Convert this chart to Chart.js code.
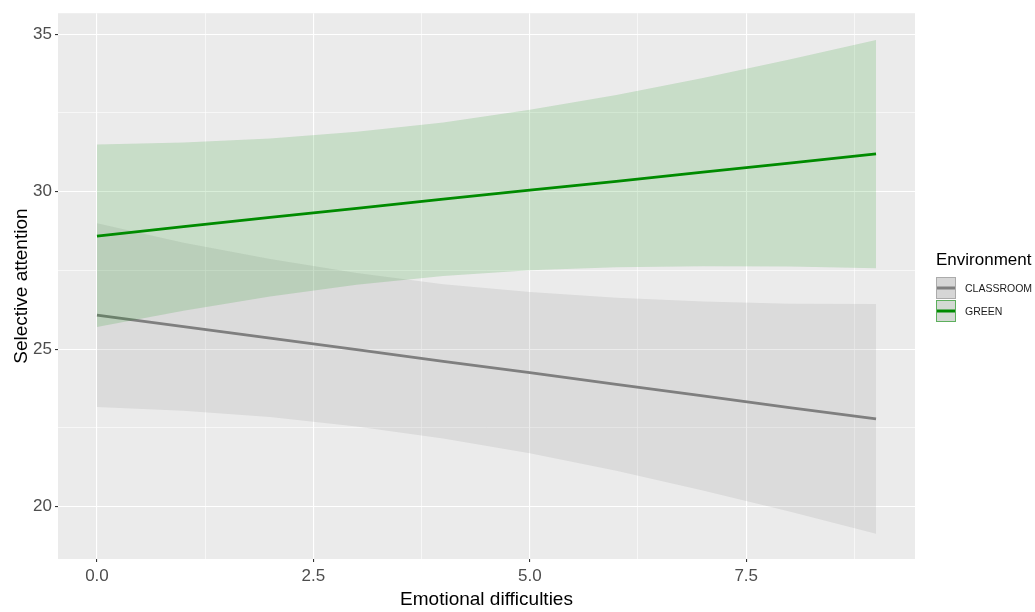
<!DOCTYPE html>
<html>
<head>
<meta charset="utf-8">
<script src="https://cdn.jsdelivr.net/npm/chart.js@4.4.0/dist/chart.umd.min.js"></script>
<style>
  html, body { margin: 0; padding: 0; background: #ffffff; }
  #wrap { width: 1035px; height: 612px; }
</style>
</head>
<body>
<div id="wrap"><canvas id="chart" width="1035" height="612"></canvas></div>
<script>
// values
const emotional = [0, 1, 2, 3, 4, 5, 6, 7, 8, 9];

const classroomFit   = [26.08, 25.71, 25.35, 24.98, 24.61, 24.25, 23.88, 23.51, 23.14, 22.78];
const classroomUpper = [29.00, 28.38, 27.86, 27.42, 27.06, 26.81, 26.63, 26.51, 26.44, 26.43];
const classroomLower = [23.16, 23.04, 22.84, 22.54, 22.16, 21.69, 21.13, 20.51, 19.84, 19.13];

const greenFit   = [28.59, 28.89, 29.18, 29.47, 29.76, 30.05, 30.33, 30.62, 30.91, 31.20];
const greenUpper = [31.50, 31.56, 31.69, 31.90, 32.20, 32.60, 33.07, 33.61, 34.20, 34.82];
const greenLower = [25.70, 26.22, 26.67, 27.04, 27.32, 27.50, 27.60, 27.63, 27.62, 27.57];

const xMajor = [0, 2.5, 5, 7.5];
const xMinor = [1.25, 3.75, 6.25, 8.75];
const yMajor = [20, 25, 30, 35];
const yMinor = [22.5, 27.5, 32.5];

const legendTitle = 'Environment';
const groups = ['CLASSROOM', 'GREEN'];

const FONT = "'Liberation Sans', Arial, sans-serif";
const GREY = '#7F7F7F';
const GREEN = '#008B00';

function pts(ys) {
    return emotional.map((x, i) => ({ x: x, y: ys[i] }));
}

function isMajor(list, v) {
    return list.some(m => Math.abs(m - v) < 1e-6);
}

const panelBg = {
    id: 'panelBg',
    beforeDraw(chart) {
        const { ctx, chartArea: a } = chart;
        ctx.save();
        ctx.fillStyle = '#EBEBEB';
        ctx.fillRect(a.left, a.top, a.right - a.left, a.bottom - a.top);
        ctx.restore();
    }
};

const ggLegend = {
    id: 'ggLegend',
    afterDraw(chart) {
        const ctx = chart.ctx;
        ctx.save();
        ctx.textBaseline = 'middle';
        ctx.textAlign = 'left';
        ctx.fillStyle = '#000000';
        ctx.font = '17px ' + FONT;
        ctx.fillText(legendTitle, 936, 260);

        const keys = [
            { fill: '#D6D6D6', border: '#ABABAB', line: GREY },
            { fill: '#D3D9D3', border: '#5DAF5D', line: GREEN }
        ];
        groups.forEach((g, i) => {
            const y = 277 + i * 23;
            const k = keys[i];
            ctx.fillStyle = k.fill;
            ctx.fillRect(936, y, 20, 22);
            ctx.strokeStyle = k.border;
            ctx.lineWidth = 1;
            ctx.strokeRect(936.5, y + 0.5, 19, 21);
            ctx.strokeStyle = k.line;
            ctx.lineWidth = 3;
            ctx.beginPath();
            ctx.moveTo(937, y + 11);
            ctx.lineTo(955, y + 11);
            ctx.stroke();
            ctx.fillStyle = '#1A1A1A';
            ctx.font = '10.5px ' + FONT;
            ctx.fillText(g, 965, y + 12);
        });
        ctx.restore();
    }
};

const ctx = document.getElementById('chart').getContext('2d');
new Chart(ctx, {
    type: 'line',
    data: {
        datasets: [
            {
                label: 'CLASSROOM upper',
                data: pts(classroomUpper),
                borderWidth: 0,
                pointRadius: 0,
                fill: '+1',
                backgroundColor: 'rgba(127, 127, 127, 0.15)',
                order: 6
            },
            {
                label: 'CLASSROOM lower',
                data: pts(classroomLower),
                borderWidth: 0,
                pointRadius: 0,
                fill: false,
                order: 6
            },
            {
                label: 'CLASSROOM',
                data: pts(classroomFit),
                borderColor: GREY,
                borderWidth: 2.8,
                pointRadius: 0,
                fill: false,
                order: 5
            },
            {
                label: 'GREEN upper',
                data: pts(greenUpper),
                borderWidth: 0,
                pointRadius: 0,
                fill: '+1',
                backgroundColor: 'rgba(0, 139, 0, 0.15)',
                order: 4
            },
            {
                label: 'GREEN lower',
                data: pts(greenLower),
                borderWidth: 0,
                pointRadius: 0,
                fill: false,
                order: 4
            },
            {
                label: 'GREEN',
                data: pts(greenFit),
                borderColor: GREEN,
                borderWidth: 2.8,
                pointRadius: 0,
                fill: false,
                order: 3
            }
        ]
    },
    options: {
        responsive: false,
        animation: false,
        events: [],
        layout: { padding: { top: 11, right: 120, left: 0, bottom: 0 } },
        plugins: {
            legend: { display: false },
            tooltip: { enabled: false }
        },
        scales: {
            x: {
                type: 'linear',
                min: -0.45,
                max: 9.45,
                afterBuildTicks: (scale) => {
                    scale.ticks = xMajor.concat(xMinor).sort((a, b) => a - b).map(v => ({ value: v }));
                },
                afterFit: (scale) => { scale.height = 53; },
                border: { display: false },
                grid: {
                    color: '#FFFFFF',
                    lineWidth: (c) => isMajor(xMajor, c.tick.value) ? 1.1 : 0.6,
                    tickColor: (c) => isMajor(xMajor, c.tick.value) ? '#333333' : 'rgba(0,0,0,0)',
                    tickLength: 3
                },
                ticks: {
                    autoSkip: false,
                    maxRotation: 0,
                    padding: 4,
                    color: '#4D4D4D',
                    font: { family: FONT, size: 17 },
                    callback: (v) => isMajor(xMajor, v) ? v.toFixed(1) : ''
                },
                title: {
                    display: true,
                    text: 'Emotional difficulties',
                    color: '#000000',
                    font: { family: FONT, size: 19 },
                    padding: { top: 0, bottom: 1 }
                }
            },
            y: {
                type: 'linear',
                min: 18.33,
                max: 35.67,
                afterBuildTicks: (scale) => {
                    scale.ticks = yMajor.concat(yMinor).sort((a, b) => a - b).map(v => ({ value: v }));
                },
                afterFit: (scale) => { scale.width = 58; },
                border: { display: false },
                grid: {
                    color: '#FFFFFF',
                    lineWidth: (c) => isMajor(yMajor, c.tick.value) ? 1.1 : 0.6,
                    tickColor: (c) => isMajor(yMajor, c.tick.value) ? '#333333' : 'rgba(0,0,0,0)',
                    tickLength: 3
                },
                ticks: {
                    autoSkip: false,
                    padding: 3,
                    color: '#4D4D4D',
                    font: { family: FONT, size: 17 },
                    callback: (v) => isMajor(yMajor, v) ? String(v) : ''
                },
                title: {
                    display: true,
                    text: 'Selective attention',
                    color: '#000000',
                    font: { family: FONT, size: 19 },
                    padding: { top: 10, bottom: 0 }
                }
            }
        }
    },
    plugins: [panelBg, ggLegend]
});
</script>
</body>
</html>
